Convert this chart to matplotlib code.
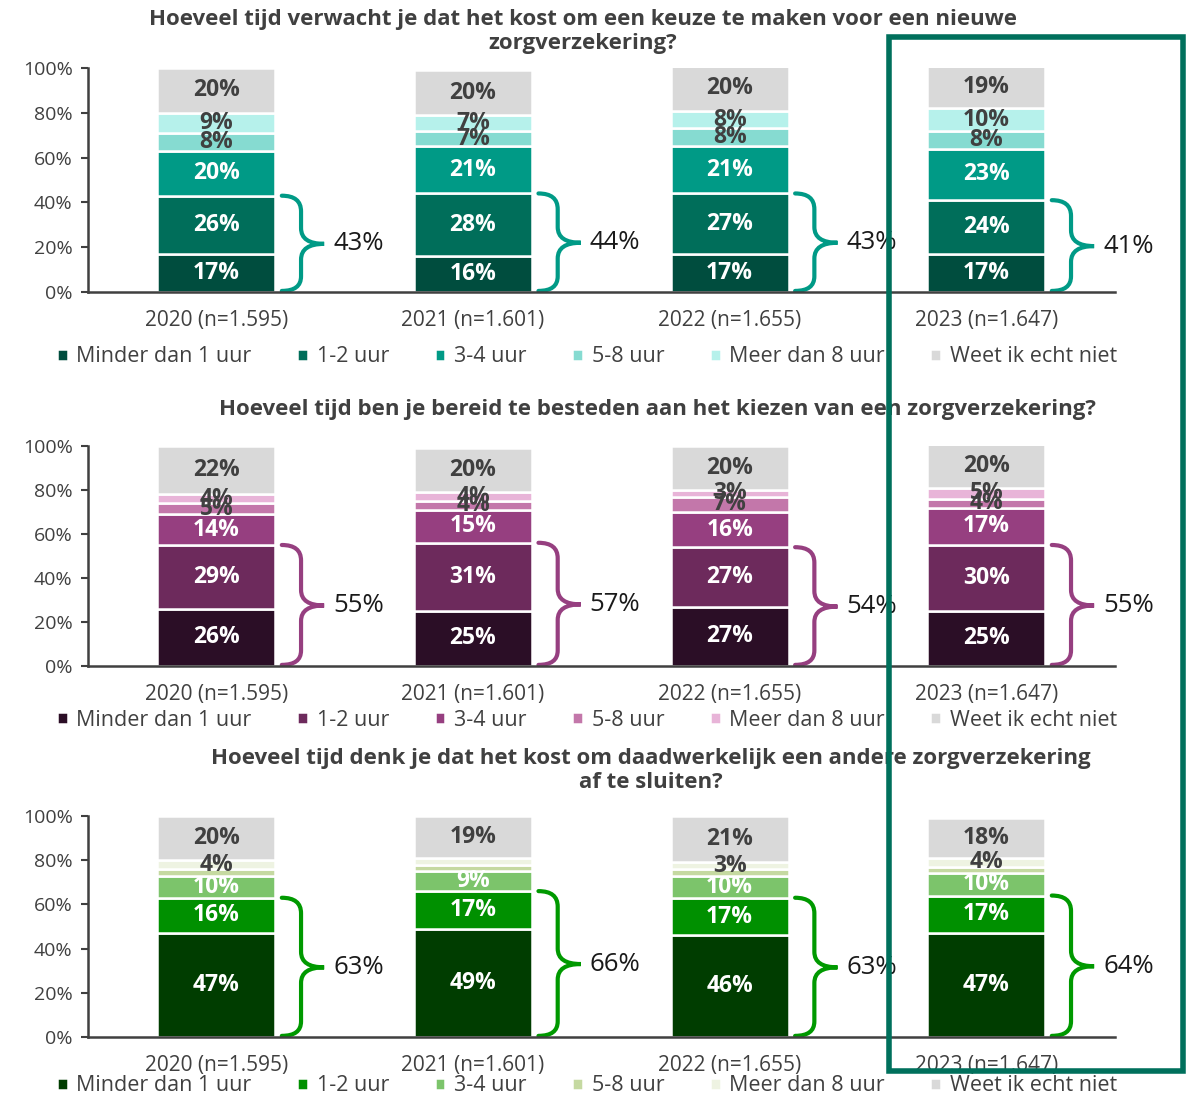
import matplotlib.pyplot as plt
import numpy as np
from matplotlib.path import Path
from matplotlib.patches import PathPatch, Rectangle

plt.rcParams['font.family'] = ['Open Sans', 'DejaVu Sans']

# --- data ---
years = ['2020 (n=1.595)', '2021 (n=1.601)', '2022 (n=1.655)', '2023 (n=1.647)']
series = ['Minder dan 1 uur', '1-2 uur', '3-4 uur', '5-8 uur', 'Meer dan 8 uur', 'Weet ik echt niet']

titles = [
    'Hoeveel tijd verwacht je dat het kost om een keuze te maken voor een nieuwe\nzorgverzekering?',
    'Hoeveel tijd ben je bereid te besteden aan het kiezen van een zorgverzekering?',
    'Hoeveel tijd denk je dat het kost om daadwerkelijk een andere zorgverzekering\naf te sluiten?',
]

# values per series (rows) per year (columns)
keuze = [
    [17, 16, 17, 17],
    [26, 28, 27, 24],
    [20, 21, 21, 23],
    [8, 7, 8, 8],
    [9, 7, 8, 10],
    [20, 20, 20, 19],
]
bereid = [
    [26, 25, 27, 25],
    [29, 31, 27, 30],
    [14, 15, 16, 17],
    [5, 4, 7, 4],
    [4, 4, 3, 5],
    [22, 20, 20, 20],
]
afsluiten = [
    [47, 49, 46, 47],
    [16, 17, 17, 17],
    [10, 9, 10, 10],
    [3, 3, 3, 3],
    [4, 3, 3, 4],
    [20, 19, 21, 18],
]
# which labels are shown in the bottom chart (small ones hidden)
afsluiten_show = [
    [1, 1, 1, 1],
    [1, 1, 1, 1],
    [1, 1, 1, 1],
    [0, 0, 0, 0],
    [1, 0, 1, 1],
    [1, 1, 1, 1],
]

brace_keuze = [43, 44, 43, 41]
brace_bereid = [55, 57, 54, 55]
brace_afsluiten = [63, 66, 63, 64]

palettes = [
    ['#004D3E', '#006E5A', '#009A86', '#86DBD1', '#B6F1EB', '#D9D9D9'],
    ['#2B0E26', '#6D2A5C', '#963F80', '#C377AA', '#E8B4D8', '#D9D9D9'],
    ['#003D00', '#009000', '#7CC46B', '#C5D9A1', '#EEF3E2', '#D9D9D9'],
]
brace_colors = ['#009A86', '#963F80', '#009900']

panels = [
    (keuze, None, brace_keuze),
    (bereid, None, brace_bereid),
    (afsluiten, afsluiten_show, brace_afsluiten),
]

fig = plt.figure(figsize=(11.91, 10.95), dpi=100)
grey = '#404040'

axes_pos = [
    [0.0739, 0.7333, 0.862, 0.2046],
    [0.0739, 0.3918, 0.862, 0.2009],
    [0.0739, 0.0530, 0.862, 0.2018],
]
title_pos = [(0.4895, 0.9712), (0.552, 0.6256), (0.5466, 0.2963)]
legend_y = [-0.195, -0.15, -0.125]

x = np.arange(len(years))
bw = 0.46

for p, (vals, show, totals) in enumerate(panels):
    ax = fig.add_axes(axes_pos[p])
    colors = palettes[p]
    bottom = np.zeros(len(years))
    for s, name in enumerate(series):
        v = np.array(vals[s], dtype=float)
        ax.bar(x, v, bw, bottom=bottom, color=colors[s], edgecolor='white',
               linewidth=1.8, label=name)
        for i in range(len(years)):
            if show is not None and not show[s][i]:
                continue
            tc = 'white' if s < 3 else grey
            ax.text(x[i], bottom[i] + v[i] / 2, f'{int(v[i])}%', ha='center',
                    va='center', color=tc, fontsize=16.5, fontweight='bold')
        bottom += v

    # braces around first two segments
    for i in range(len(years)):
        top = vals[0][i] + vals[1][i]
        mid = top / 2
        x0 = x[i] + bw / 2 + 0.025
        xm = x0 + 0.075
        xt = x0 + 0.165
        r = 7
        verts = [(x0, top), (xm, top), (xm, top - r), (xm, mid + r),
                 (xm, mid), (xt, mid), (xm, mid), (xm, mid - r),
                 (xm, r), (xm, 0.5), (x0, 0.5)]
        codes = [Path.MOVETO, Path.CURVE3, Path.CURVE3, Path.LINETO,
                 Path.CURVE3, Path.CURVE3, Path.CURVE3, Path.CURVE3,
                 Path.LINETO, Path.CURVE3, Path.CURVE3]
        ax.add_patch(PathPatch(Path(verts, codes), fill=False, lw=3,
                               edgecolor=brace_colors[p], clip_on=False,
                               capstyle='round'))
        ax.text(xt + 0.035, mid, f'{totals[i]}%', ha='left', va='center',
                fontsize=18.5, color='#1a1a1a')

    ax.set_xlim(-0.5, 3.5)
    ax.set_ylim(0, 100)
    ax.set_yticks(range(0, 101, 20))
    ax.set_yticklabels([f'{t}%' for t in range(0, 101, 20)], fontsize=14, color=grey)
    ax.set_xticks(x)
    ax.set_xticklabels(years, fontsize=15, color=grey)
    ax.tick_params(axis='x', length=0, pad=13)
    ax.tick_params(axis='y', length=5, width=1.5, color=grey, pad=6)
    for side in ['top', 'right']:
        ax.spines[side].set_visible(False)
    for side in ['left', 'bottom']:
        ax.spines[side].set_color(grey)
        ax.spines[side].set_linewidth(1.8)

    ax.legend(loc='upper center', bbox_to_anchor=(0.486, legend_y[p]), ncol=6,
              frameon=False, fontsize=15.5, handlelength=0.5, handleheight=0.5,
              handletextpad=0.4, columnspacing=2.12, labelcolor=grey,
              borderpad=0)

    fig.text(title_pos[p][0], title_pos[p][1], titles[p], ha='center', va='center',
             fontsize=16, fontweight='bold', color=grey, linespacing=1.2)

# highlight frame around 2023
fig.patches.append(Rectangle((889 / 1191, 1 - 1071 / 1095), 294 / 1191, 1034 / 1095,
                             transform=fig.transFigure, fill=False,
                             edgecolor='#00705C', linewidth=4, zorder=10))

fig.savefig('out.png', dpi=100)
